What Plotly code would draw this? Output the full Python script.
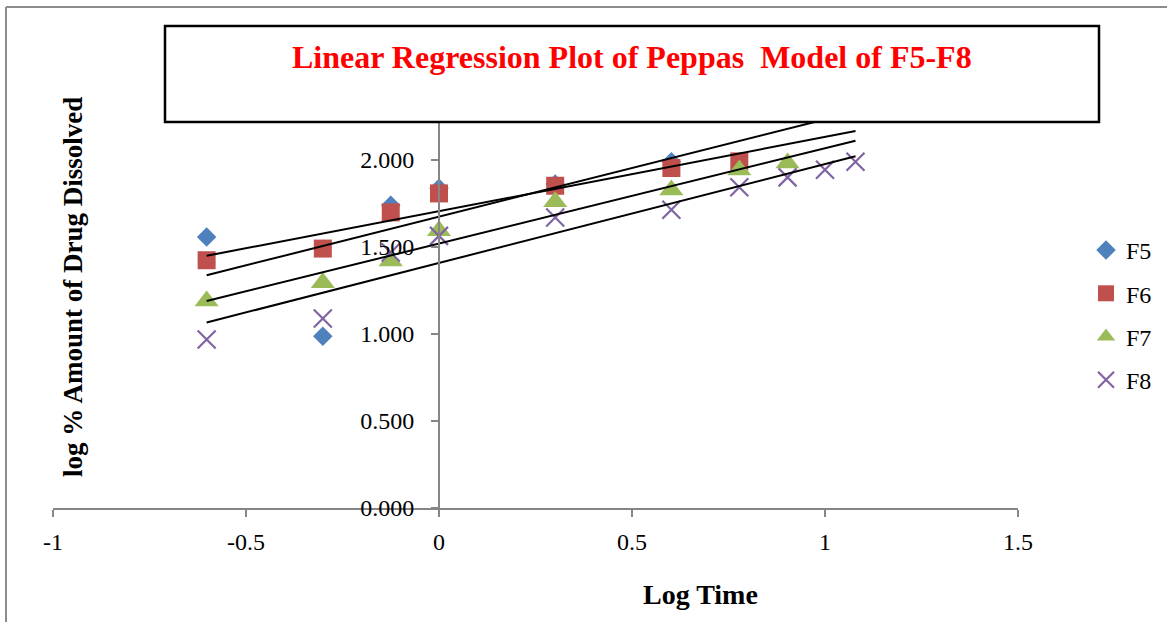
import numpy as np
import plotly.graph_objects as go

# ---- data -------------------------------------------------------------
log_time = [-0.602, -0.301, -0.125, 0.000, 0.301, 0.602, 0.778, 0.903, 1.000, 1.079]

f5 = [1.558, 0.987, 1.740, 1.837, 1.862, 1.990]
f6 = [1.424, 1.491, 1.699, 1.808, 1.852, 1.954, 1.992]
f7 = [1.190, 1.295, 1.420, 1.593, 1.760, 1.827, 1.942, 1.983]
f8 = [0.968, 1.089, 1.468, 1.564, 1.670, 1.714, 1.843, 1.900, 1.944, 1.990]

series_names = ["F5", "F6", "F7", "F8"]
x_tickvals = [-1, -0.5, 0, 0.5, 1, 1.5]
x_ticktext = ["-1", "-0.5", "0", "0.5", "1", "1.5"]
y_tickvals = [0, 0.5, 1.0, 1.5, 2.0]
y_ticktext = ["0.000", "0.500", "1.000", "1.500", "2.000"]

# ---- geometry & styling ------------------------------------------------
W, H = 1167, 622
ML, MR, MT, MB = 53, 10, 73, 114
PLOT_RIGHT = 1018                     # pixel where x = 1.5 sits
PW, PH = W - ML - MR, H - MT - MB
X_DOMAIN_END = (PLOT_RIGHT - ML) / PW
X_MIN, X_MAX = -1, 1.5
SERIF = "Liberation Serif, Times New Roman, serif"
AXIS_GREY = "#868686"

styles = {
    "F5": dict(symbol="diamond", size=15, color="#4F81BD"),
    "F6": dict(symbol="square", size=18, color="#C0504D"),
    "F7": dict(symbol="triangle-up", size=21, color="#9BBB59"),
    "F8": dict(symbol="x-thin", size=18, color="#8064A2"),
}


def px_x(p):
    return (p - ML) / PW


def px_y(p):
    return (H - MB - p) / PH


fig = go.Figure()

all_series = [f5, f6, f7, f8]
for name, ys in zip(series_names, all_series):
    st = styles[name]
    marker = dict(symbol=st["symbol"], size=st["size"], color=st["color"])
    if st["symbol"] == "x-thin":
        marker["line"] = dict(color=st["color"], width=2.2)
    else:
        marker["line"] = dict(width=0)
    fig.add_trace(go.Scatter(
        x=log_time[:len(ys)], y=ys, mode="markers", name=name,
        legendgroup=name, marker=marker,
    ))

# linear trendlines (least squares) across the full time range
x_lo, x_hi = min(log_time), max(log_time)
for name, ys in zip(series_names, all_series):
    slope, intercept = np.polyfit(log_time[:len(ys)], ys, 1)
    fig.add_trace(go.Scatter(
        x=[x_lo, x_hi], y=[intercept + slope * x_lo, intercept + slope * x_hi],
        mode="lines", line=dict(color="black", width=2),
        showlegend=False, hoverinfo="skip",
    ))

fig.update_layout(
    width=W, height=H,
    margin=dict(l=ML, r=MR, t=MT, b=MB, autoexpand=False),
    paper_bgcolor="white", plot_bgcolor="white",
    font=dict(family=SERIF, size=24, color="black"),
    xaxis=dict(
        domain=[0, X_DOMAIN_END],
        range=[X_MIN, X_MAX], tickvals=x_tickvals, ticktext=x_ticktext,
        showgrid=False, zeroline=False, showline=True,
        linecolor=AXIS_GREY, linewidth=2, ticks="outside", ticklen=7,
        tickcolor=AXIS_GREY, tickwidth=2, ticklabelstandoff=4,
    ),
    yaxis=dict(
        range=[0, 2.5], tickvals=y_tickvals, ticktext=y_ticktext,
        anchor="free",
        position=X_DOMAIN_END * (0 - X_MIN) / (X_MAX - X_MIN),
        showgrid=False, zeroline=False, showline=True,
        linecolor=AXIS_GREY, linewidth=2, ticks="outside", ticklen=7,
        tickcolor=AXIS_GREY, tickwidth=2, ticklabelstandoff=12,
    ),
    legend=dict(
        x=px_x(1086), y=px_y(315), xanchor="left", yanchor="middle",
        font=dict(family=SERIF, size=24), traceorder="grouped",
        tracegroupgap=9, itemwidth=30, bgcolor="rgba(0,0,0,0)",
    ),
    showlegend=True,
)

# chart frame edges and title box
fig.add_shape(type="line", xref="paper", yref="paper",
              x0=px_x(6), x1=px_x(6), y0=px_y(7), y1=px_y(H + 5),
              line=dict(color="#8c8c8c", width=2), layer="above")
fig.add_shape(type="line", xref="paper", yref="paper",
              x0=px_x(6), x1=px_x(W + 5), y0=px_y(7), y1=px_y(7),
              line=dict(color="#8c8c8c", width=2), layer="above")
fig.add_shape(type="rect", xref="paper", yref="paper",
              x0=px_x(165), x1=px_x(1099), y0=px_y(122), y1=px_y(26),
              fillcolor="white", line=dict(color="black", width=2.5),
              layer="above")

fig.add_annotation(
    text="<b>Linear Regression Plot of Peppas\u00a0 Model of F5-F8</b>",
    xref="paper", yref="paper", x=px_x(632), y=px_y(57),
    xanchor="center", yanchor="middle", showarrow=False,
    font=dict(family=SERIF, size=32, color="#FF0000"),
)
fig.add_annotation(
    text="<b>Log Time</b>", xref="paper", yref="paper",
    x=px_x(700), y=px_y(594), xanchor="center", yanchor="middle",
    showarrow=False, font=dict(family=SERIF, size=28, color="black"),
)
fig.add_annotation(
    text="<b>log % Amount of Drug Dissolved</b>", xref="paper", yref="paper",
    x=px_x(73), y=px_y(287), xanchor="center", yanchor="middle",
    textangle=-90, showarrow=False,
    font=dict(family=SERIF, size=27, color="black"),
)

fig.write_html("out.html")
